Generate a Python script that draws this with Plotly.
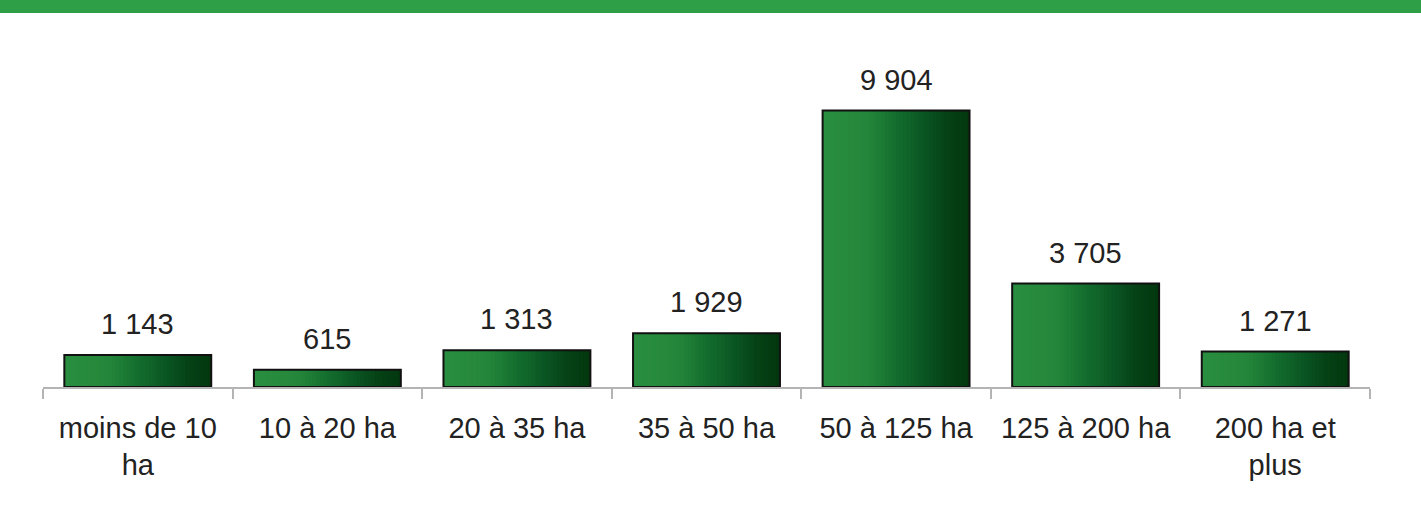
import plotly.graph_objects as go

categories = ["moins de 10<br>ha", "10 à 20 ha", "20 à 35 ha", "35 à 50 ha",
              "50 à 125 ha", "125 à 200 ha", "200 ha et<br>plus"]
values = [1143, 615, 1313, 1929, 9904, 3705, 1271]
value_labels = ["1 143", "615", "1 313", "1 929", "9 904", "3 705", "1 271"]

W, H = 1421, 517
ML, MR, MT, MB = 43, 51, 52, 130
YMAX = 12000
FS = 29

BAR_W = 0.775
N = 40
stops = [(0.0, (42, 142, 64)), (0.3, (36, 134, 58)), (0.5, (20, 110, 46)),
         (0.7, (10, 85, 35)), (0.85, (5, 66, 22)), (1.0, (3, 56, 15))]
step = BAR_W / N


def grad(t):
    for (t0, a), (t1, b) in zip(stops[:-1], stops[1:]):
        if t <= t1:
            u = (t - t0) / (t1 - t0)
            return tuple(round(a[k] + (b[k] - a[k]) * u) for k in range(3))
    return stops[-1][1]


fig = go.Figure()
for i in range(N):
    col = grad(i / (N - 1))
    fig.add_trace(go.Bar(
        x=categories, y=values,
        width=BAR_W - i * step, offset=-BAR_W / 2 + i * step,
        marker=dict(color="rgb(%d,%d,%d)" % col, line=dict(width=0)),
        showlegend=False, hoverinfo="skip"))

fig.add_trace(go.Bar(
    x=categories, y=values, width=BAR_W, offset=-BAR_W / 2,
    marker=dict(color="rgba(0,0,0,0)", line=dict(color="#111111", width=2)),
    showlegend=False, hoverinfo="skip"))

for c, v, lab in zip(categories, values, value_labels):
    fig.add_annotation(x=c, y=v, text=lab, showarrow=False, yanchor="bottom",
                       yshift=13, font=dict(size=FS, color="#222222",
                                            family="Liberation Sans, Arial, sans-serif"))

plot_h = H - MT - MB
fig.add_shape(type="rect", xref="paper", yref="paper", x0=-ML / (W - ML - MR),
              x1=1 + MR / (W - ML - MR), y0=(plot_h + MT - 13) / plot_h,
              y1=(plot_h + MT) / plot_h, fillcolor="#2e9e47", line=dict(width=0),
              layer="below")

fig.update_layout(
    width=W, height=H, barmode="overlay",
    margin=dict(l=ML, r=MR, t=MT, b=MB),
    paper_bgcolor="white", plot_bgcolor="white",
    font=dict(family="Liberation Sans, Arial, sans-serif", size=FS, color="#222222"),
    xaxis=dict(showline=True, linecolor="#b4b4b4", linewidth=1.5,
               ticks="outside", tickson="boundaries", ticklen=10, tickcolor="#b4b4b4",
               tickwidth=1.5, range=[-0.5, 6.5], ticklabelstandoff=14,
               tickfont=dict(size=FS, color="#222222"), showgrid=False),
    yaxis=dict(range=[0, YMAX], visible=False, showgrid=False),
)

fig.write_html("out.html", config={"displayModeBar": False},
               post_script="document.body.style.margin='0';document.body.style.overflow='hidden';")
